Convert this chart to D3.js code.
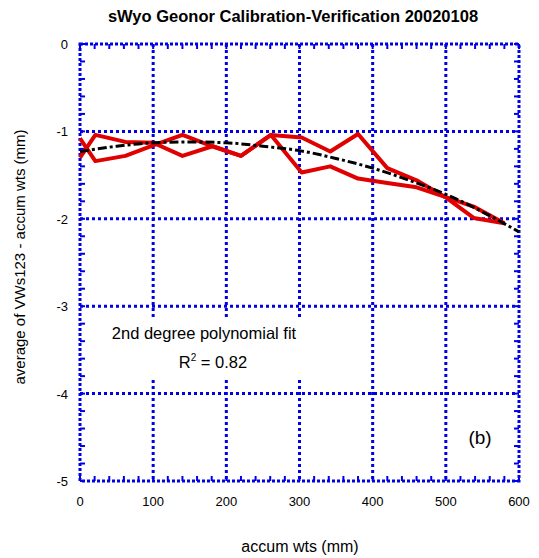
<!DOCTYPE html>
<html>
<head>
<meta charset="utf-8">
<script src="https://cdn.jsdelivr.net/npm/d3@7"></script>
<style>
  body { margin: 0; background: #fff; }
  text { font-family: "Liberation Sans", Arial, sans-serif; fill: #000; }
</style>
</head>
<body>
<script>
var width = 539;
var height = 558;

// accum wts (mm) at each reading
var accumWts = [0, 21, 62, 100, 140, 181, 220, 261, 303, 342, 380, 420, 460, 499, 538, 580];
// two runs of average VWs123 - accum wts (mm)
var run1 = [-1.30, -1.04, -1.12, -1.13, -1.28, -1.17, -1.28, -1.04, -1.07, -1.23, -1.03, -1.42, -1.56, -1.75, -1.99, -2.05];
var run2 = [-1.08, -1.34, -1.28, -1.16, -1.04, -1.17, -1.28, -1.04, -1.47, -1.40, -1.54, -1.59, -1.64, -1.75, -1.86, -2.05];

// fitted curve
var fitX = [0, 50, 100, 150, 200, 250, 300, 350, 400, 450, 500, 550, 600];
var fitY = [-1.23, -1.17, -1.13, -1.12, -1.13, -1.17, -1.22, -1.31, -1.42, -1.56, -1.72, -1.92, -2.15];

var xTicks = [0, 100, 200, 300, 400, 500, 600];
var yTicks = [0, -1, -2, -3, -4, -5];

var plotLeft = 80, plotRight = 519, plotTop = 44, plotBottom = 481;
var blue = "#0000e6";

var x = d3.scaleLinear().domain([0, 600]).range([plotLeft, plotRight]);
var y = d3.scaleLinear().domain([-5, 0]).range([plotBottom, plotTop]);

var svg = d3.select("body").append("svg")
  .attr("width", width)
  .attr("height", height);

// grid lines
svg.selectAll(".vgrid")
  .data(xTicks.slice(1, -1))
  .enter().append("line")
  .attr("x1", function(d) { return x(d); })
  .attr("x2", function(d) { return x(d); })
  .attr("y1", plotTop).attr("y2", plotBottom)
  .attr("stroke", blue).attr("stroke-width", 3)
  .attr("stroke-dasharray", "3,3");

svg.selectAll(".hgrid")
  .data(yTicks.slice(1, -1))
  .enter().append("line")
  .attr("y1", function(d) { return y(d); })
  .attr("y2", function(d) { return y(d); })
  .attr("x1", plotLeft).attr("x2", plotRight)
  .attr("stroke", blue).attr("stroke-width", 3)
  .attr("stroke-dasharray", "3,3");

// minor ticks on all four sides, pointing inward
var xMinor = d3.range(0, 601, 20);
var yMinor = d3.range(-5, 0.001, 0.2);
var tick = 5;

svg.selectAll(".xtb").data(xMinor).enter().append("line")
  .attr("x1", function(d) { return x(d); }).attr("x2", function(d) { return x(d); })
  .attr("y1", plotBottom).attr("y2", plotBottom - tick)
  .attr("stroke", blue).attr("stroke-width", 2);
svg.selectAll(".xtt").data(xMinor).enter().append("line")
  .attr("x1", function(d) { return x(d); }).attr("x2", function(d) { return x(d); })
  .attr("y1", plotTop).attr("y2", plotTop + tick)
  .attr("stroke", blue).attr("stroke-width", 2);
svg.selectAll(".ytl").data(yMinor).enter().append("line")
  .attr("y1", function(d) { return y(d); }).attr("y2", function(d) { return y(d); })
  .attr("x1", plotLeft).attr("x2", plotLeft + tick)
  .attr("stroke", blue).attr("stroke-width", 2);
svg.selectAll(".ytr").data(yMinor).enter().append("line")
  .attr("y1", function(d) { return y(d); }).attr("y2", function(d) { return y(d); })
  .attr("x1", plotRight).attr("x2", plotRight - tick)
  .attr("stroke", blue).attr("stroke-width", 2);

// frame
svg.append("rect")
  .attr("x", plotLeft).attr("y", plotTop)
  .attr("width", plotRight - plotLeft).attr("height", plotBottom - plotTop)
  .attr("fill", "none")
  .attr("stroke", blue).attr("stroke-width", 3)
  .attr("stroke-dasharray", "3,2");

// tick labels
svg.selectAll(".xlab").data(xTicks).enter().append("text")
  .attr("x", function(d) { return x(d); })
  .attr("y", 506)
  .attr("text-anchor", "middle")
  .style("font-size", "13px")
  .text(function(d) { return d; });

svg.selectAll(".ylab").data(yTicks).enter().append("text")
  .attr("x", 68)
  .attr("y", function(d) { return y(d) + 5; })
  .attr("text-anchor", "end")
  .style("font-size", "13px")
  .text(function(d) { return d; });

// red runs
var line = d3.line()
  .x(function(d) { return x(d[0]); })
  .y(function(d) { return y(d[1]); });

[run1, run2].forEach(function(run) {
  svg.append("path")
    .datum(accumWts.map(function(w, i) { return [w, run[i]]; }))
    .attr("d", line)
    .attr("fill", "none")
    .attr("stroke", "#e00000")
    .attr("stroke-width", 4)
    .attr("stroke-linejoin", "round");
});

// fit curve
svg.append("path")
  .datum(fitX.map(function(w, i) { return [w, fitY[i]]; }))
  .attr("d", line.curve(d3.curveMonotoneX))
  .attr("fill", "none")
  .attr("stroke", "#000")
  .attr("stroke-width", 3)
  .attr("stroke-dasharray", "9,3,3,3");

// annotation box hides the grid behind the text
svg.append("rect")
  .attr("x", 104).attr("y", 317)
  .attr("width", 202).attr("height", 60)
  .attr("fill", "#fff");

svg.append("text")
  .attr("x", 204).attr("y", 339)
  .attr("text-anchor", "middle")
  .style("font-size", "16.5px")
  .text("2nd degree polynomial fit");

var r2 = svg.append("text")
  .attr("x", 213).attr("y", 368)
  .attr("text-anchor", "middle")
  .style("font-size", "16.5px");
r2.append("tspan").text("R");
r2.append("tspan").attr("dy", -7).style("font-size", "10px").text("2");
r2.append("tspan").attr("dy", 7).text(" = 0.82");

svg.append("text")
  .attr("x", 480).attr("y", 444)
  .attr("text-anchor", "middle")
  .style("font-size", "19px")
  .text("(b)");

// titles
svg.append("text")
  .attr("x", 293).attr("y", 22)
  .attr("text-anchor", "middle")
  .style("font-size", "16.5px")
  .style("font-weight", "bold")
  .text("sWyo Geonor Calibration-Verification 20020108");

svg.append("text")
  .attr("x", 300).attr("y", 552)
  .attr("text-anchor", "middle")
  .style("font-size", "16px")
  .text("accum wts (mm)");

svg.append("text")
  .attr("transform", "translate(25," + 257 + ") rotate(-90)")
  .attr("text-anchor", "middle")
  .style("font-size", "15px")
  .text("average of VWs123 - accum wts (mm)");
</script>
</body>
</html>
